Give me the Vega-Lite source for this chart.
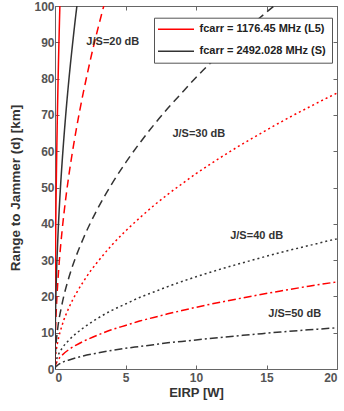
{
  "$schema": "https://vega.github.io/schema/vega-lite/v6.json",
  "width": 282,
  "height": 363,
  "autosize": {"type": "none"},
  "padding": {"left": 55, "top": 6, "right": 7, "bottom": 42},
  "background": "white",
  "datasets": {
    "curves": [
      {"b":"L5","j":20,"p":0,"d":0},{"b":"L5","j":20,"p":0.005,"d":12.0},{"b":"L5","j":20,"p":0.01,"d":17.0},{"b":"L5","j":20,"p":0.02,"d":24.0},{"b":"L5","j":20,"p":0.05,"d":38.0},{"b":"L5","j":20,"p":0.1,"d":53.8},{"b":"L5","j":20,"p":0.15,"d":65.8},{"b":"L5","j":20,"p":0.2,"d":76.0},{"b":"L5","j":20,"p":0.25,"d":85.0},{"b":"L5","j":20,"p":0.3,"d":93.1},{"b":"L5","j":20,"p":0.35,"d":100.6},
      {"b":"L5","j":30,"p":0,"d":0},{"b":"L5","j":30,"p":0.01,"d":5.4},{"b":"L5","j":30,"p":0.05,"d":12.0},{"b":"L5","j":30,"p":0.1,"d":17.0},{"b":"L5","j":30,"p":0.2,"d":24.0},{"b":"L5","j":30,"p":0.3,"d":29.4},{"b":"L5","j":30,"p":0.5,"d":38.0},{"b":"L5","j":30,"p":0.75,"d":46.6},{"b":"L5","j":30,"p":1,"d":53.8},{"b":"L5","j":30,"p":1.25,"d":60.1},{"b":"L5","j":30,"p":1.5,"d":65.8},{"b":"L5","j":30,"p":1.75,"d":71.1},{"b":"L5","j":30,"p":2,"d":76.0},{"b":"L5","j":30,"p":2.25,"d":80.6},{"b":"L5","j":30,"p":2.5,"d":85.0},{"b":"L5","j":30,"p":2.75,"d":89.2},{"b":"L5","j":30,"p":3,"d":93.1},{"b":"L5","j":30,"p":3.25,"d":96.9},{"b":"L5","j":30,"p":3.5,"d":100.6},
      {"b":"L5","j":40,"p":0,"d":0},{"b":"L5","j":40,"p":0.01,"d":1.7},{"b":"L5","j":40,"p":0.05,"d":3.8},{"b":"L5","j":40,"p":0.1,"d":5.4},{"b":"L5","j":40,"p":0.2,"d":7.6},{"b":"L5","j":40,"p":0.5,"d":12.0},{"b":"L5","j":40,"p":1,"d":17.0},{"b":"L5","j":40,"p":1.5,"d":20.8},{"b":"L5","j":40,"p":2,"d":24.0},{"b":"L5","j":40,"p":2.5,"d":26.9},{"b":"L5","j":40,"p":3,"d":29.4},{"b":"L5","j":40,"p":4,"d":34.0},{"b":"L5","j":40,"p":5,"d":38.0},{"b":"L5","j":40,"p":6,"d":41.6},{"b":"L5","j":40,"p":7,"d":45.0},{"b":"L5","j":40,"p":8,"d":48.1},{"b":"L5","j":40,"p":9,"d":51.0},{"b":"L5","j":40,"p":10,"d":53.8},{"b":"L5","j":40,"p":11,"d":56.4},{"b":"L5","j":40,"p":12,"d":58.9},{"b":"L5","j":40,"p":13,"d":61.3},{"b":"L5","j":40,"p":14,"d":63.6},{"b":"L5","j":40,"p":15,"d":65.8},{"b":"L5","j":40,"p":16,"d":68.0},{"b":"L5","j":40,"p":17,"d":70.1},{"b":"L5","j":40,"p":18,"d":72.1},{"b":"L5","j":40,"p":19,"d":74.1},{"b":"L5","j":40,"p":20,"d":76.0},
      {"b":"L5","j":50,"p":0,"d":0},{"b":"L5","j":50,"p":0.01,"d":0.54},{"b":"L5","j":50,"p":0.05,"d":1.2},{"b":"L5","j":50,"p":0.1,"d":1.7},{"b":"L5","j":50,"p":0.2,"d":2.4},{"b":"L5","j":50,"p":0.5,"d":3.8},{"b":"L5","j":50,"p":1,"d":5.4},{"b":"L5","j":50,"p":1.5,"d":6.6},{"b":"L5","j":50,"p":2,"d":7.6},{"b":"L5","j":50,"p":3,"d":9.3},{"b":"L5","j":50,"p":4,"d":10.8},{"b":"L5","j":50,"p":5,"d":12.0},{"b":"L5","j":50,"p":6,"d":13.2},{"b":"L5","j":50,"p":7,"d":14.2},{"b":"L5","j":50,"p":8,"d":15.2},{"b":"L5","j":50,"p":9,"d":16.1},{"b":"L5","j":50,"p":10,"d":17.0},{"b":"L5","j":50,"p":12,"d":18.6},{"b":"L5","j":50,"p":14,"d":20.1},{"b":"L5","j":50,"p":16,"d":21.5},{"b":"L5","j":50,"p":18,"d":22.8},{"b":"L5","j":50,"p":20,"d":24.0},
      {"b":"S","j":20,"p":0,"d":0},{"b":"S","j":20,"p":0.01,"d":8.0},{"b":"S","j":20,"p":0.02,"d":11.3},{"b":"S","j":20,"p":0.05,"d":17.9},{"b":"S","j":20,"p":0.1,"d":25.4},{"b":"S","j":20,"p":0.2,"d":35.9},{"b":"S","j":20,"p":0.3,"d":44.0},{"b":"S","j":20,"p":0.4,"d":50.8},{"b":"S","j":20,"p":0.5,"d":56.7},{"b":"S","j":20,"p":0.75,"d":69.5},{"b":"S","j":20,"p":1,"d":80.3},{"b":"S","j":20,"p":1.25,"d":89.7},{"b":"S","j":20,"p":1.5,"d":98.3},{"b":"S","j":20,"p":1.6,"d":101.5},
      {"b":"S","j":30,"p":0,"d":0},{"b":"S","j":30,"p":0.01,"d":2.5},{"b":"S","j":30,"p":0.05,"d":5.7},{"b":"S","j":30,"p":0.1,"d":8.0},{"b":"S","j":30,"p":0.2,"d":11.4},{"b":"S","j":30,"p":0.5,"d":17.9},{"b":"S","j":30,"p":1,"d":25.4},{"b":"S","j":30,"p":1.5,"d":31.1},{"b":"S","j":30,"p":2,"d":35.9},{"b":"S","j":30,"p":3,"d":44.0},{"b":"S","j":30,"p":4,"d":50.8},{"b":"S","j":30,"p":5,"d":56.8},{"b":"S","j":30,"p":6,"d":62.2},{"b":"S","j":30,"p":7,"d":67.2},{"b":"S","j":30,"p":8,"d":71.8},{"b":"S","j":30,"p":9,"d":76.1},{"b":"S","j":30,"p":10,"d":80.3},{"b":"S","j":30,"p":11,"d":84.2},{"b":"S","j":30,"p":12,"d":87.9},{"b":"S","j":30,"p":13,"d":91.5},{"b":"S","j":30,"p":14,"d":95.0},{"b":"S","j":30,"p":15,"d":98.3},{"b":"S","j":30,"p":16,"d":101.5},
      {"b":"S","j":40,"p":0,"d":0},{"b":"S","j":40,"p":0.01,"d":0.8},{"b":"S","j":40,"p":0.05,"d":1.8},{"b":"S","j":40,"p":0.1,"d":2.5},{"b":"S","j":40,"p":0.2,"d":3.6},{"b":"S","j":40,"p":0.5,"d":5.7},{"b":"S","j":40,"p":1,"d":8.0},{"b":"S","j":40,"p":1.5,"d":9.8},{"b":"S","j":40,"p":2,"d":11.3},{"b":"S","j":40,"p":3,"d":13.9},{"b":"S","j":40,"p":4,"d":16.1},{"b":"S","j":40,"p":5,"d":17.9},{"b":"S","j":40,"p":6,"d":19.7},{"b":"S","j":40,"p":7,"d":21.2},{"b":"S","j":40,"p":8,"d":22.7},{"b":"S","j":40,"p":9,"d":24.1},{"b":"S","j":40,"p":10,"d":25.4},{"b":"S","j":40,"p":12,"d":27.8},{"b":"S","j":40,"p":14,"d":30.0},{"b":"S","j":40,"p":16,"d":32.1},{"b":"S","j":40,"p":18,"d":34.0},{"b":"S","j":40,"p":20,"d":35.9},
      {"b":"S","j":50,"p":0,"d":0},{"b":"S","j":50,"p":0.01,"d":0.25},{"b":"S","j":50,"p":0.05,"d":0.57},{"b":"S","j":50,"p":0.1,"d":0.8},{"b":"S","j":50,"p":0.2,"d":1.1},{"b":"S","j":50,"p":0.5,"d":1.8},{"b":"S","j":50,"p":1,"d":2.5},{"b":"S","j":50,"p":1.5,"d":3.1},{"b":"S","j":50,"p":2,"d":3.6},{"b":"S","j":50,"p":3,"d":4.4},{"b":"S","j":50,"p":4,"d":5.1},{"b":"S","j":50,"p":5,"d":5.7},{"b":"S","j":50,"p":6,"d":6.2},{"b":"S","j":50,"p":7,"d":6.7},{"b":"S","j":50,"p":8,"d":7.2},{"b":"S","j":50,"p":9,"d":7.6},{"b":"S","j":50,"p":10,"d":8.0},{"b":"S","j":50,"p":12,"d":8.8},{"b":"S","j":50,"p":14,"d":9.5},{"b":"S","j":50,"p":16,"d":10.2},{"b":"S","j":50,"p":18,"d":10.8},{"b":"S","j":50,"p":20,"d":11.35}
    ],
    "labels": [
      {"p":4.1,"d":90.1,"t":"J/S=20 dB"},
      {"p":10.2,"d":64.8,"t":"J/S=30 dB"},
      {"p":14.3,"d":36.7,"t":"J/S=40 dB"},
      {"p":17.0,"d":15.2,"t":"J/S=50 dB"}
    ],
    "frame": [{"p":0,"d":0}]
  },
  "layer": [
    {
      "data": {"name": "curves"},
      "mark": {"type": "line", "clip": true, "strokeWidth": 1.5, "interpolate": "monotone"},
      "encoding": {
        "x": {"field": "p", "type": "quantitative", "scale": {"domain": [0, 20], "nice": false},
          "axis": {"orient": "bottom", "values": [0, 5, 10, 15, 20], "tickSize": -4, "labelPadding": 7, "title": "EIRP [W]", "titleFontSize": 13, "titlePadding": 3}},
        "y": {"field": "d", "type": "quantitative", "scale": {"domain": [0, 100], "nice": false},
          "axis": {"orient": "left", "values": [0, 10, 20, 30, 40, 50, 60, 70, 80, 90, 100], "tickSize": -4, "labelPadding": 5, "title": "Range to Jammer (d) [km]", "titleFontSize": 13.5, "titlePadding": 11}},
        "color": {"field": "b", "type": "nominal", "scale": {"domain": ["L5", "S"], "range": ["#ff0000", "#333333"]},
          "legend": {"orient": "none", "legendX": 99, "legendY": 11.7, "title": null, "symbolType": "M-4,0H4", "symbolSize": 81, "symbolStrokeWidth": 1.4, "symbolOffset": 10.5, "labelOffset": 18,
            "labelFontSize": 11, "labelFontWeight": "bold", "labelColor": "#222", "strokeColor": "#555", "fillColor": "white", "padding": 6, "rowPadding": 10,
            "labelExpr": "datum.value == 'L5' ? 'fcarr = 1176.45 MHz (L5)' : 'fcarr = 2492.028 MHz (S)'"}},
        "strokeDash": {"field": "j", "type": "nominal", "scale": {"domain": [20, 30, 40, 50], "range": [[1, 0], [8, 5], [2, 3], [8, 3, 2, 3]]}, "legend": null}
      }
    },
    {
      "data": {"name": "labels"},
      "mark": {"type": "text", "fontWeight": "bold", "fontSize": 11, "color": "#333"},
      "encoding": {
        "x": {"field": "p", "type": "quantitative", "axis": null},
        "y": {"field": "d", "type": "quantitative", "axis": null},
        "text": {"field": "t"}
      }
    },
    {
      "data": {"name": "frame"},
      "mark": {"type": "point", "opacity": 0},
      "encoding": {
        "x": {"field": "p", "type": "quantitative", "axis": {"orient": "top", "values": [0, 5, 10, 15, 20], "labels": false, "title": null, "tickSize": -4}},
        "y": {"field": "d", "type": "quantitative", "axis": {"orient": "right", "values": [0, 10, 20, 30, 40, 50, 60, 70, 80, 90, 100], "labels": false, "title": null, "tickSize": -4}}
      }
    }
  ],
  "resolve": {"axis": {"x": "independent", "y": "independent"}},
  "config": {
    "font": "Liberation Sans",
    "view": {"stroke": "#666", "strokeWidth": 1},
    "axis": {"grid": false, "domainColor": "#666", "tickColor": "#666", "labelColor": "#555", "labelFontWeight": "bold", "labelFontSize": 12, "titleColor": "#333", "titleFontWeight": "bold"}
  }
}
